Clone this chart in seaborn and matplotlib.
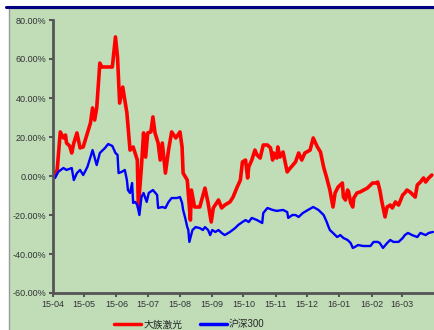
import matplotlib.pyplot as plt
import matplotlib.dates as mdates
import pandas as pd
import seaborn as sns
from matplotlib.patches import Rectangle
from matplotlib.lines import Line2D

# days after 2015-04-01 and cumulative return (%)
red_days = [0, 4, 7, 10, 12, 13, 16, 18, 20, 23, 26, 29, 34, 36, 38, 40, 42, 45, 47, 57, 60, 62, 64,
            67, 71, 74, 77, 81, 82, 85, 87, 89, 91, 94, 96, 98, 101, 103, 105, 108, 111, 114, 118, 122,
            124, 125, 129, 132, 133, 136, 141, 146, 149, 152, 154, 159, 162, 165, 170, 173, 177, 180,
            182, 185, 187, 188, 191, 194, 196, 199, 202, 206, 209, 211, 212, 215, 216, 218, 221, 225,
            228, 233, 236, 239, 242, 247, 250, 254, 257, 260, 263, 266, 269, 271, 274, 278, 279, 281,
            283, 284, 286, 288, 289, 292, 295, 302, 307, 310, 312, 314, 316, 319, 321, 324, 326, 329,
            332, 336, 338, 340, 343, 348, 350, 353, 356, 358, 361, 364]
red_vals = [0.0, 3.1, 22.6, 19.5, 21.0, 16.9, 15.4, 11.8, 16.9, 22.1, 14.4, 14.9, 23.6, 27.2, 34.9,
            28.7, 34.9, 57.9, 55.9, 55.9, 71.3, 61.0, 37.4, 45.6, 32.3, 13.3, 14.9, 8.2, -15.9, 5.0,
            22.1, 9.7, 22.1, 22.6, 30.3, 22.1, 16.9, 8.2, 16.9, 1.5, 13.3, 22.6, 19.5, 22.6, 14.9, 1.5,
            -2.1, -22.6, -7.2, -15.9, -15.9, -6.2, -13.8, -23.6, -16.4, -12.3, -16.4, -14.9, -13.3,
            -10.8, -5.6, -2.1, 7.2, 8.2, -1.0, 4.6, 8.2, 13.3, 10.8, 9.2, 15.9, 15.9, 14.4, 8.2, 11.8,
            9.2, 14.9, 9.7, 12.3, 2.1, 4.1, 7.2, 11.8, 8.2, 11.8, 13.3, 19.5, 14.9, 12.3, 4.6, -1.0,
            -7.2, -15.9, -8.7, -5.6, -3.6, -10.8, -12.3, -7.2, -8.2, -13.8, -15.9, -11.3, -8.7, -8.2,
            -6.2, -3.6, -3.6, -3.1, -7.2, -13.3, -21.0, -15.9, -14.9, -16.4, -13.3, -14.9, -9.7, -8.7,
            -7.2, -8.2, -10.8, -4.6, -3.1, -1.0, -3.1, -1.0, 0.5]

blue_days = [0, 2, 5, 10, 13, 18, 20, 23, 26, 29, 33, 36, 38, 42, 45, 50, 53, 57, 60, 62, 63, 66, 69,
             71, 72, 74, 76, 77, 79, 81, 83, 85, 87, 90, 92, 96, 100, 101, 105, 108, 111, 114, 119,
             122, 124, 125, 127, 129, 130, 131, 134, 137, 141, 144, 146, 149, 151, 153, 156, 159, 162,
             165, 170, 175, 178, 182, 185, 188, 191, 196, 201, 202, 206, 211, 215, 221, 225, 226, 230,
             233, 236, 240, 245, 250, 255, 260, 263, 264, 266, 269, 273, 276, 279, 283, 286, 288, 290,
             293, 298, 305, 308, 312, 314, 317, 321, 324, 327, 332, 336, 338, 341, 345, 350, 353, 358,
             361, 365]
blue_vals = [0.0, -1.0, 2.1, 4.1, 3.1, 4.1, -2.1, 1.5, 3.1, 0.5, 4.6, 9.7, 13.3, 5.6, 11.8, 14.4, 16.4,
             15.4, 11.8, 10.8, 1.5, 2.1, 3.1, -2.1, -7.2, -8.7, -3.6, -13.8, -13.3, -14.9, -20.0, -10.8,
             -8.7, -13.3, -8.7, -7.2, -9.7, -16.4, -15.9, -16.4, -13.3, -11.3, -11.3, -10.8, -13.8,
             -17.4, -21.5, -26.2, -27.7, -33.8, -27.7, -26.2, -26.7, -27.7, -26.2, -27.7, -30.3, -27.7,
             -28.7, -27.7, -29.2, -30.3, -28.7, -26.7, -25.1, -23.6, -22.6, -23.6, -21.5, -22.6, -24.1,
             -19.0, -16.4, -17.4, -17.9, -17.4, -18.5, -21.5, -20.0, -20.0, -21.0, -19.0, -17.4, -15.9,
             -17.4, -20.0, -23.6, -25.1, -27.7, -29.2, -31.3, -30.3, -31.8, -32.8, -34.4, -36.9, -36.4,
             -35.4, -35.9, -35.9, -33.8, -33.8, -34.4, -36.9, -34.4, -32.8, -33.8, -33.8, -31.8, -30.3,
             -29.2, -30.3, -31.3, -29.2, -30.3, -29.2, -28.7]

series_names = ["大族激光", "沪深300"]
series_colors = ["#FF0000", "#0000FF"]
y_ticks = [-60, -40, -20, 0, 20, 40, 60, 80]

start = pd.Timestamp("2015-04-01")
df = pd.concat([
    pd.DataFrame({"date": start + pd.to_timedelta(red_days, unit="D"), "ret": red_vals, "name": series_names[0]}),
    pd.DataFrame({"date": start + pd.to_timedelta(blue_days, unit="D"), "ret": blue_vals, "name": series_names[1]}),
])

sns.set_theme(style="ticks")
plt.rcParams["font.family"] = ["Liberation Sans", "Noto Sans CJK SC", "DejaVu Sans"]
green = "#C0DDB8"

fig = plt.figure(figsize=(4.35, 3.3), dpi=100)
fig.patch.set_facecolor("white")
bg = Rectangle((9 / 435, -0.01), 1, 1 - 8 / 330 + 0.01, transform=fig.transFigure,
               facecolor=green, edgecolor="#999999", linewidth=1.0, zorder=-10)
fig.add_artist(bg)
fig.add_artist(Line2D([6 / 435, 1], [1 - 7 / 330, 1 - 7 / 330], transform=fig.transFigure,
                      color="#000080", linewidth=2.2, zorder=-5))

ax = fig.add_axes([53 / 435, 1 - 293 / 330, 1 - 53 / 435, (293 - 20) / 330])
ax.set_zorder(5)
ax.set_facecolor("none")
sns.lineplot(data=df, x="date", y="ret", hue="name", palette=series_colors, sort=False,
             estimator=None, ax=ax, legend=False)
ax.lines[0].set_linewidth(2.6)
ax.lines[1].set_linewidth(1.7)

ax.set_ylim(-60, 80)
ax.set_yticks(y_ticks)
ax.set_yticklabels([f"{v:.2f}%" for v in y_ticks])
ax.set_xlim(start, start + pd.Timedelta(days=367))
ax.set_xticks(pd.date_range("2015-04-01", "2016-03-01", freq="MS"))
ax.xaxis.set_major_formatter(mdates.DateFormatter("%y-%m"))
ax.set_xlabel("")
ax.set_ylabel("")
ax.tick_params(axis="both", labelsize=6.5, colors="#555555", labelcolor="#333333",
               length=3, width=1.5, pad=2)
sns.despine(ax=ax)
for s in ["left", "bottom"]:
    ax.spines[s].set_color("#555555")
    ax.spines[s].set_linewidth(2)

handles = [Line2D([], [], color=c, linewidth=2.5) for c in series_colors]
leg = fig.legend(handles, series_names, loc="lower center", bbox_to_anchor=(0.435, -0.025), ncol=2,
                 frameon=False, fontsize=7, handlelength=2.8, handletextpad=0.2, columnspacing=1.8)
leg.set_zorder(6)

fig.savefig("out.png", dpi=100, facecolor=fig.get_facecolor())
